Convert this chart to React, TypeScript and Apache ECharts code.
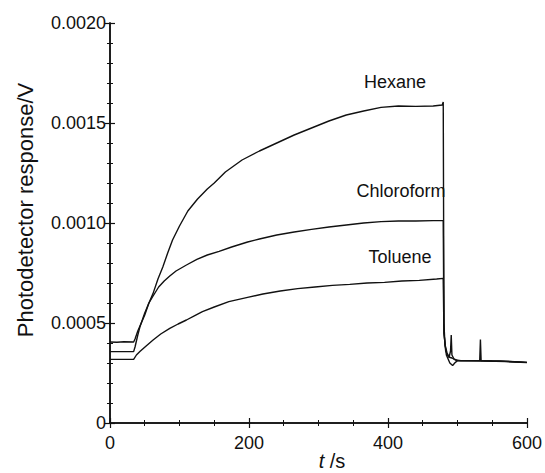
import React, { useEffect, useRef } from "react";
import * as echarts from "echarts";

const xTickLabels = ["0", "200", "400", "600"];
const yTickLabels = ["0", "0.0005", "0.0010", "0.0015", "0.0020"];

const hexaneT = [0, 10, 20, 34, 36, 40, 45, 50, 56, 62, 69, 76, 83, 90, 100, 112, 126, 140, 150, 166, 190, 215, 240, 265, 290, 315, 340, 365, 390, 415, 440, 465, 478, 479.5, 480.5, 482, 485, 488, 490, 491, 492, 495, 500, 520, 532, 533, 534, 550, 575, 590, 600];
const hexaneV = [0.000405, 0.000404, 0.000406, 0.000405, 0.00042, 0.00046, 0.0005, 0.00054, 0.0006, 0.000648, 0.00072, 0.00078, 0.00085, 0.000915, 0.000985, 0.00106, 0.00112, 0.00117, 0.0012, 0.001255, 0.001315, 0.00136, 0.0014, 0.00144, 0.001475, 0.00151, 0.00154, 0.00156, 0.001578, 0.001585, 0.001583, 0.001585, 0.00159, 0.001605, 0.0005, 0.00039, 0.00035, 0.00033, 0.00036, 0.00044, 0.00034, 0.00032, 0.000312, 0.000312, 0.000313, 0.000418, 0.000312, 0.00031, 0.000308, 0.000305, 0.000303];

const chloroformT = [0, 34, 36, 40, 43, 50, 56, 62, 70, 78, 86, 95, 110, 125, 140, 157, 175, 198, 215, 240, 265, 290, 315, 340, 365, 390, 415, 440, 465, 479.5, 480.5, 483, 487, 492, 497, 505, 530, 560, 600];
const chloroformV = [0.000357, 0.000357, 0.00038, 0.00044, 0.00048, 0.00055, 0.0006, 0.000635, 0.00068, 0.00071, 0.000735, 0.00076, 0.00079, 0.000818, 0.00084, 0.000858, 0.00088, 0.000905, 0.00092, 0.00094, 0.000955, 0.000968, 0.00098, 0.00099, 0.001, 0.001007, 0.00101, 0.00101, 0.001012, 0.001012, 0.00045, 0.00036, 0.00033, 0.000325, 0.000315, 0.000312, 0.000311, 0.00031, 0.000303];

const tolueneT = [0, 34, 38, 43, 52, 62, 73, 86, 98, 110, 122, 133, 150, 171, 198, 220, 245, 270, 295, 320, 345, 370, 395, 420, 445, 470, 479.5, 480.5, 484, 489, 493, 496, 500, 540, 570, 600];
const tolueneV = [0.000318, 0.000318, 0.00034, 0.000357, 0.000385, 0.000415, 0.000445, 0.000473, 0.000495, 0.000515, 0.000537, 0.000557, 0.00058, 0.000607, 0.000628, 0.000645, 0.00066, 0.000672, 0.00068, 0.000688, 0.000693, 0.0007, 0.000703, 0.00071, 0.000713, 0.00072, 0.000723, 0.00045, 0.00034, 0.0003, 0.000287, 0.0003, 0.000312, 0.00031, 0.000307, 0.000302];

const seriesNames = ["Hexane", "Chloroform", "Toluene"];

const pairs = (t: number[], v: number[]) => t.map((x, i) => [x, v[i]]);

const FONT = "'Liberation Sans', Arial, sans-serif";
const INK = "#111";

export default function App() {
  const ref = useRef<HTMLDivElement>(null);
  useEffect(() => {
    if (!ref.current) return;
    const chart = echarts.init(ref.current, undefined, { renderer: "svg" });
    const axisCommon = {
      type: "value" as const,
      axisLine: { show: true, lineStyle: { color: INK, width: 1.5 } },
      axisTick: { show: true, inside: true, length: 5, lineStyle: { color: INK, width: 1.2 } },
      minorTick: { show: true, length: 3, lineStyle: { color: INK, width: 1 } },
      splitLine: { show: false },
    };
    const xBase = { ...axisCommon, min: 0, max: 600, interval: 200 };
    const yBase = { ...axisCommon, min: 0, max: 0.002, interval: 0.0005 };
    const data = [pairs(hexaneT, hexaneV), pairs(chloroformT, chloroformV), pairs(tolueneT, tolueneV)];
    chart.setOption({
      animation: false,
      backgroundColor: "#fff",
      grid: { left: 110, right: 15, top: 23, bottom: 50, containLabel: false },
      xAxis: [
        {
          ...xBase,
          position: "bottom",
          minorTick: { ...axisCommon.minorTick, splitNumber: 4 },
          axisLabel: {
            show: true,
            margin: 11,
            fontSize: 18,
            fontFamily: FONT,
            color: INK,
            formatter: (v: number) => xTickLabels[Math.round(v / 200)] ?? "",
          },
        },
        {
          ...xBase,
          position: "top",
          minorTick: { ...axisCommon.minorTick, splitNumber: 4 },
          axisLabel: { show: false },
        },
      ],
      yAxis: [
        {
          ...yBase,
          position: "left",
          minorTick: { ...axisCommon.minorTick, splitNumber: 5 },
          axisLabel: {
            show: true,
            margin: 4,
            fontSize: 18,
            fontFamily: FONT,
            color: INK,
            formatter: (v: number) => yTickLabels[Math.round(v / 0.0005)] ?? "",
          },
        },
        {
          ...yBase,
          position: "right",
          minorTick: { ...axisCommon.minorTick, splitNumber: 5 },
          axisLabel: { show: false },
        },
      ],
      graphic: [
        {
          type: "text",
          x: 25,
          y: 210,
          rotation: Math.PI / 2,
          style: {
            text: "Photodetector response/V",
            fontSize: 22,
            fontFamily: FONT,
            fill: INK,
            align: "center",
            verticalAlign: "middle",
          },
        },
        {
          type: "text",
          x: 332,
          y: 461,
          style: {
            text: "{i|t} /s",
            fontSize: 20,
            fontFamily: FONT,
            fill: INK,
            align: "center",
            verticalAlign: "middle",
            rich: { i: { fontStyle: "italic", fontSize: 20, fontFamily: FONT, fill: INK } },
          },
        },
        { type: "text", x: 395, y: 82, style: { text: seriesNames[0], fontSize: 18, fontFamily: FONT, fill: INK, align: "center", verticalAlign: "middle" } },
        { type: "text", x: 401, y: 191, style: { text: seriesNames[1], fontSize: 18, fontFamily: FONT, fill: INK, align: "center", verticalAlign: "middle" } },
        { type: "text", x: 400, y: 257, style: { text: seriesNames[2], fontSize: 18, fontFamily: FONT, fill: INK, align: "center", verticalAlign: "middle" } },
      ],
      series: data.map((d, i) => ({
        name: seriesNames[i],
        type: "line",
        xAxisIndex: 0,
        yAxisIndex: 0,
        data: d,
        showSymbol: false,
        symbol: "none",
        lineStyle: { color: INK, width: 1.4 },
        z: 3,
      })),
    });
    return () => chart.dispose();
  }, []);
  return <div ref={ref} style={{ position: "absolute", left: 0, top: 0, width: 545, height: 473 }} />;
}
